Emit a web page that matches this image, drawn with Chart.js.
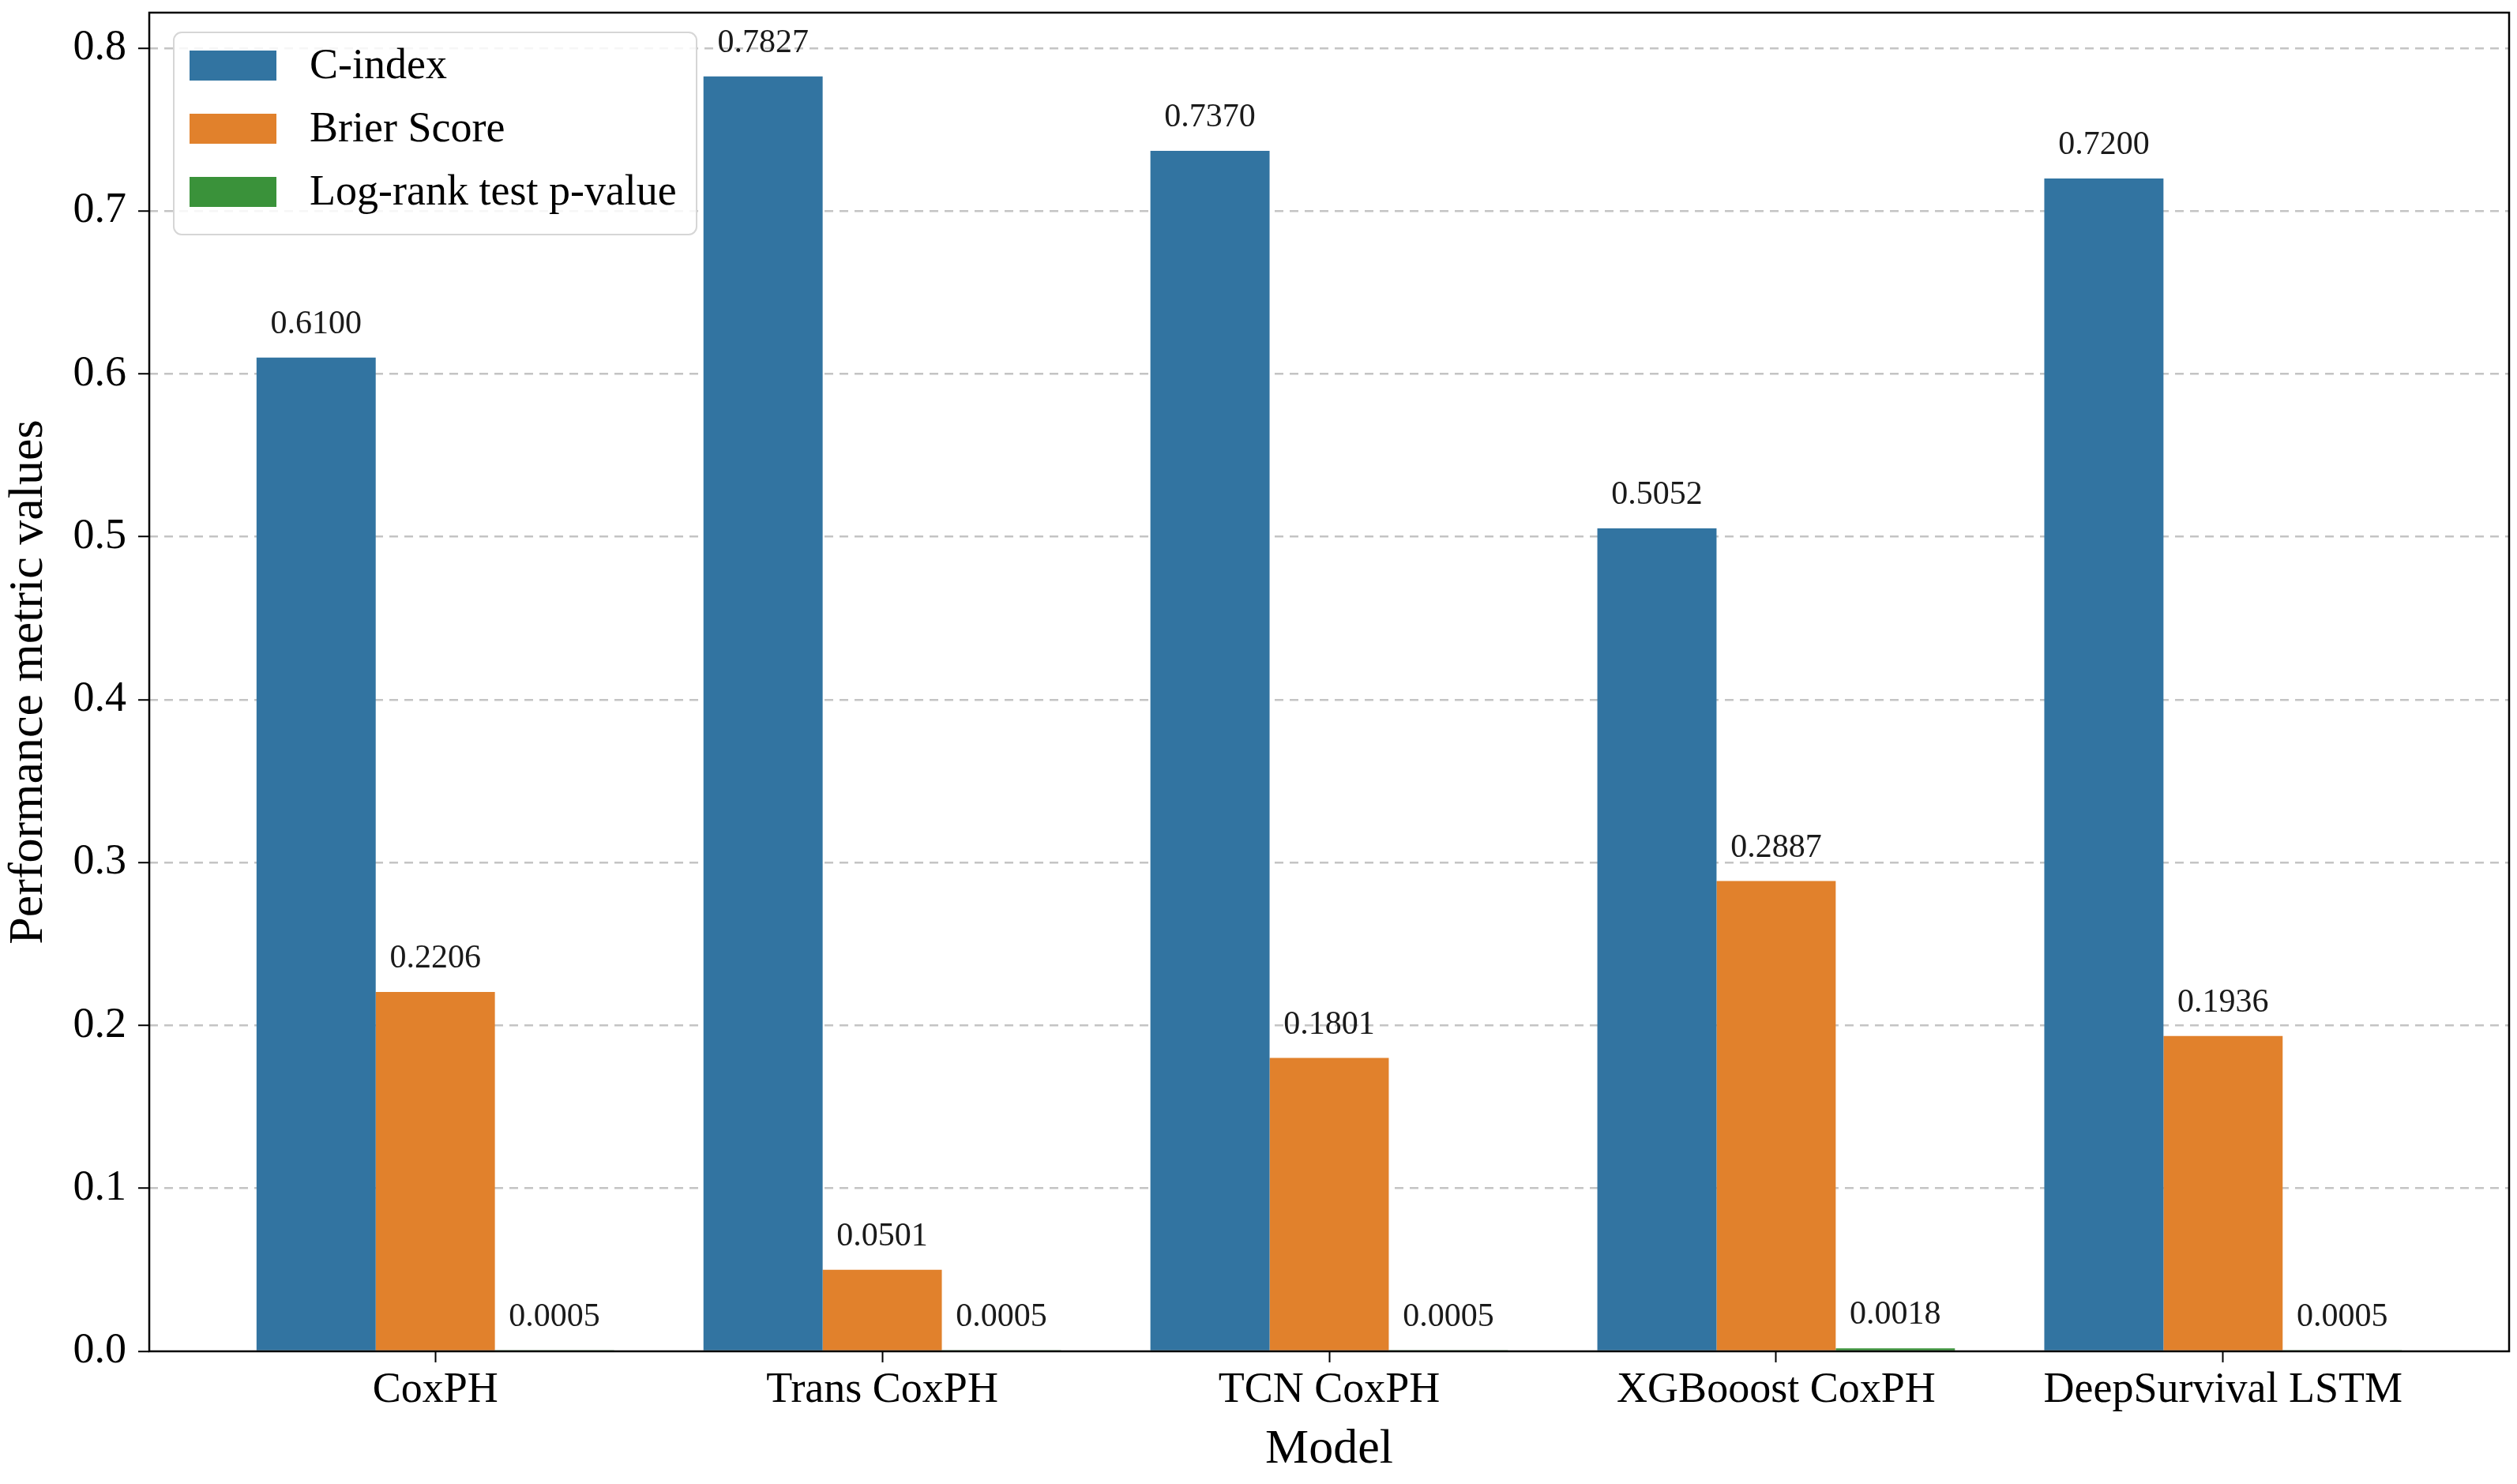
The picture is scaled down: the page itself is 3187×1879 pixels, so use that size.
<!DOCTYPE html>
<html>
<head>
<meta charset="utf-8">
<title>Performance metric values by model</title>
<script src="https://cdn.jsdelivr.net/npm/chart.js@4.4.1/dist/chart.umd.min.js"></script>
<style>
  html, body { margin: 0; padding: 0; background: #fff; }
  #wrap { width: 3187px; height: 1879px; }
</style>
</head>
<body>
<div id="wrap"><canvas id="metricsChart" width="3187" height="1879"></canvas></div>
<script>
// values
const models = ['CoxPH', 'Trans CoxPH', 'TCN CoxPH', 'XGBooost CoxPH', 'DeepSurvival LSTM'];
const cIndex = [0.6100, 0.7827, 0.7370, 0.5052, 0.7200];
const brierScore = [0.2206, 0.0501, 0.1801, 0.2887, 0.1936];
const logRankP = [0.0005, 0.0005, 0.0005, 0.0018, 0.0005];
const yTicks = [0, 0.1, 0.2, 0.3, 0.4, 0.5, 0.6, 0.7, 0.8];

const SERIF = "'Liberation Serif', 'Times New Roman', serif";

// bars sit on a linear x axis so the side margins can match the original
const toPoints = vals => vals.map((v, i) => ({ x: i, y: v }));

// --- value labels above every bar ---
const valueLabels = {
    id: 'valueLabels',
    afterDatasetsDraw(chart) {
        const ctx = chart.ctx;
        ctx.save();
        ctx.font = '42px ' + SERIF;
        ctx.fillStyle = '#1a1a1a';
        ctx.textAlign = 'center';
        ctx.textBaseline = 'alphabetic';
        chart.data.datasets.forEach((ds, di) => {
            chart.getDatasetMeta(di).data.forEach((bar, i) => {
                ctx.fillText(ds.data[i].y.toFixed(4), bar.x, bar.y - 31);
            });
        });
        ctx.restore();
    }
};

// --- axes frame + legend box, drawn on top like matplotlib ---
const frameAndLegend = {
    id: 'frameAndLegend',
    beforeDraw(chart) {
        const ctx = chart.ctx;
        ctx.save();
        ctx.fillStyle = '#ffffff';
        ctx.fillRect(0, 0, chart.width, chart.height);
        ctx.restore();
    },
    afterDraw(chart) {
        const ctx = chart.ctx;
        const a = chart.chartArea;
        ctx.save();
        ctx.strokeStyle = '#000000';
        ctx.lineWidth = 2.5;
        ctx.strokeRect(a.left, a.top, a.right - a.left, a.bottom - a.top);

        // legend
        const box = { x: a.left + 31, y: a.top + 25, w: 662, h: 256 };
        ctx.beginPath();
        ctx.roundRect(box.x, box.y, box.w, box.h, 10);
        ctx.fillStyle = 'rgba(255,255,255,0.85)';
        ctx.fill();
        ctx.strokeStyle = '#d6d6d6';
        ctx.lineWidth = 2;
        ctx.stroke();

        ctx.font = '54px ' + SERIF;
        ctx.textAlign = 'left';
        ctx.textBaseline = 'middle';
        chart.data.datasets.forEach((ds, i) => {
            const cy = box.y + 42 + i * 80;
            ctx.fillStyle = ds.backgroundColor;
            ctx.fillRect(box.x + 20, cy - 19, 110, 38);
            ctx.fillStyle = '#000000';
            ctx.fillText(ds.label, box.x + 172, cy + 2);
        });
        ctx.restore();
    }
};

const metricsCtx = document.getElementById('metricsChart');
new Chart(metricsCtx, {
    type: 'bar',
    data: {
        datasets: [{
            label: 'C-index',
            data: toPoints(cIndex),
            backgroundColor: '#3274a1'
        }, {
            label: 'Brier Score',
            data: toPoints(brierScore),
            backgroundColor: '#e1812c'
        }, {
            label: 'Log-rank test p-value',
            data: toPoints(logRankP),
            backgroundColor: '#3a923a'
        }]
    },
    options: {
        responsive: false,
        animation: false,
        devicePixelRatio: 1,
        layout: { padding: { left: 0, right: 10, top: 16, bottom: 0 } },
        datasets: {
            bar: { categoryPercentage: 0.8, barPercentage: 1.0, borderWidth: 0 }
        },
        plugins: {
            legend: { display: false },
            tooltip: { enabled: false }
        },
        scales: {
            x: {
                type: 'linear',
                min: -0.64,
                max: 4.64,
                offset: false,
                z: 1,
                afterBuildTicks: scale => {
                    scale.ticks = models.map((m, i) => ({ value: i }));
                },
                afterFit: scale => {
                    scale.height = 168;
                    scale.paddingLeft = 0;
                    scale.paddingRight = 0;
                },
                ticks: {
                    callback: (value, index) => models[index],
                    font: { family: SERIF, size: 54 },
                    color: '#000000',
                    padding: 3,
                    maxRotation: 0,
                    autoSkip: false
                },
                grid: {
                    offset: false,
                    drawOnChartArea: false,
                    drawTicks: true,
                    tickLength: 14,
                    tickWidth: 2,
                    tickColor: '#000000'
                },
                border: { display: false },
                title: {
                    display: true,
                    text: 'Model',
                    font: { family: SERIF, size: 62 },
                    color: '#000000',
                    padding: { top: 0, bottom: 6 }
                }
            },
            y: {
                min: 0,
                max: 0.8218,
                z: 1,
                afterBuildTicks: scale => {
                    scale.ticks = yTicks.map(v => ({ value: v }));
                },
                afterFit: scale => {
                    scale.width = 189;
                    scale.paddingTop = 0;
                    scale.paddingBottom = 0;
                },
                ticks: {
                    callback: value => value.toFixed(1),
                    font: { family: SERIF, size: 54 },
                    color: '#000000',
                    padding: 15
                },
                grid: {
                    color: c => (c.tick && c.tick.value === 0) ? 'rgba(0,0,0,0)' : 'rgba(176,176,176,0.75)',
                    lineWidth: 2.5,
                    drawTicks: true,
                    tickLength: 14,
                    tickWidth: 2,
                    tickColor: '#000000'
                },
                border: { display: false, dash: [11, 8] },
                title: {
                    display: true,
                    text: 'Performance metric values',
                    font: { family: SERIF, size: 62 },
                    color: '#000000',
                    padding: { top: 0, bottom: 0 }
                }
            }
        }
    },
    plugins: [frameAndLegend, valueLabels]
});
</script>
</body>
</html>
